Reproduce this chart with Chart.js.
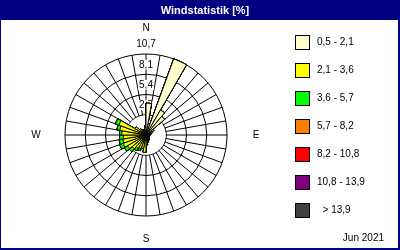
<!DOCTYPE html>
<html>
<head>
<meta charset="utf-8">
<script src="https://cdn.jsdelivr.net/npm/chart.js@4.4.0/dist/chart.umd.min.js"></script>
<style>
  html, body { margin: 0; padding: 0; background: #fff; }
  #wrap { width: 400px; height: 250px; }
</style>
</head>
<body>
<div id="wrap"><canvas id="windRose" width="400" height="250"></canvas></div>
<script>
// ---------- Data ---------- //
const chartTitle = "Windstatistik [%]";
const period = "Jun 2021";
const compassLabels = ["N", "E", "S", "W"];
const ringLabels = ["2,7", "5,4", "8,1", "10,7"];
const scaleMax = 10.7;

// 36 sectors of 10 degrees, clockwise from north
const directions = [
  "0", "10", "20", "30", "40", "50", "60", "70", "80",
  "90", "100", "110", "120", "130", "140", "150", "160", "170",
  "180", "190", "200", "210", "220", "230", "240", "250", "260",
  "270", "280", "290", "300", "310", "320", "330", "340", "350",
];

const speedClasses = [
  "0,5 - 2,1", "2,1 - 3,6", "3,6 - 5,7", "5,7 - 8,2",
  "8,2 - 10,8", "10,8 - 13,9", "  > 13,9",
];
const classColors = [
  "#ffffcc", "#ffff00", "#00ff00", "#ff8000",
  "#ff0000", "#800080", "#404040",
];

// share per sector [%] for each speed class
const speed05to21 = [
  4.2, 1.5, 10.7, 3.8, 3.2, 1.2, 0.8, 0.6, 0.5,
  0.5, 0.4, 0.4, 0.5, 0.5, 0.6, 0.6, 0.7, 0.8,
  0.7, 0.6, 0.5, 0.5, 0.5, 0.5, 0.5, 0.5, 0.5,
  0.5, 0.5, 0.5, 0.6, 0.6, 0.6, 0.6, 0.7, 1.0,
];
const speed21to36 = [
  0, 0, 0, 0, 0, 0, 0.1, 0.1, 0,
  0, 0, 0, 0, 0, 0.1, 0.2, 0.3, 0.5,
  1.6, 1.2, 1.4, 1.5, 1.9, 2.3, 2.7, 2.6, 2.5,
  2.7, 3.0, 3.3, 1.1, 0.5, 0.2, 0.1, 0.1, 0.2,
];
const speed36to57 = [
  0, 0, 0, 0, 0, 0, 0, 0, 0,
  0, 0, 0, 0, 0, 0, 0, 0, 0,
  0, 0, 0.3, 0.4, 0.5, 0.5, 0.5, 0.5, 0.5,
  0.3, 0.4, 0.5, 0, 0, 0, 0, 0, 0,
];
const speed57to82 = [
  0, 0, 0, 0, 0, 0, 0, 0, 0,
  0, 0, 0, 0, 0, 0, 0, 0, 0,
  0, 0, 0, 0, 0, 0, 0, 0, 0,
  0, 0, 0, 0, 0, 0, 0, 0, 0,
];
const speed82to108 = [
  0, 0, 0, 0, 0, 0, 0, 0, 0,
  0, 0, 0, 0, 0, 0, 0, 0, 0,
  0, 0, 0, 0, 0, 0, 0, 0, 0,
  0, 0, 0, 0, 0, 0, 0, 0, 0,
];
const speed108to139 = [
  0, 0, 0, 0, 0, 0, 0, 0, 0,
  0, 0, 0, 0, 0, 0, 0, 0, 0,
  0, 0, 0, 0, 0, 0, 0, 0, 0,
  0, 0, 0, 0, 0, 0, 0, 0, 0,
];
const speedOver139 = [
  0, 0, 0, 0, 0, 0, 0, 0, 0,
  0, 0, 0, 0, 0, 0, 0, 0, 0,
  0, 0, 0, 0, 0, 0, 0, 0, 0,
  0, 0, 0, 0, 0, 0, 0, 0, 0,
];

const classSeries = [
  speed05to21, speed21to36, speed36to57, speed57to82,
  speed82to108, speed108to139, speedOver139,
];

const FONT = '"Liberation Sans", Arial, sans-serif';
const NAVY = "#000080";

// stacked rose: each dataset holds the running total, smallest drawn on top
function cumulate(seriesList) {
  const running = new Array(directions.length).fill(0);
  return seriesList.map((series) =>
    series.map((value, i) => {
      running[i] = Math.round((running[i] + value) * 100) / 100;
      return running[i];
    })
  );
}

const stacked = cumulate(classSeries);
const datasets = speedClasses.map((label, i) => ({
  label,
  data: stacked[i],
  backgroundColor: classColors[i],
  borderColor: "#000",
  borderWidth: 1,
}));

// ---------- Decorations: title bar, labels, legend ---------- //
const roseDecor = {
  id: "roseDecor",
  beforeDraw(chart) {
    const { ctx, width } = chart;
    ctx.save();
    ctx.fillStyle = NAVY;
    ctx.fillRect(0, 0, width, 20);
    ctx.fillStyle = "#fff";
    ctx.font = "bold 11px " + FONT;
    ctx.textAlign = "center";
    ctx.textBaseline = "middle";
    ctx.fillText(chartTitle, width / 2 + 5, 10.5);
    ctx.restore();
  },
  beforeDatasetsDraw(chart) {
    const ctx = chart.ctx;
    const r = chart.scales.r;
    const inner = r.getDistanceFromCenterForValue(r.ticks[1].value);
    ctx.save();
    // calm circle stays empty
    ctx.beginPath();
    ctx.arc(r.xCenter, r.yCenter, inner - 0.5, 0, Math.PI * 2);
    ctx.fillStyle = "#fff";
    ctx.fill();

    ctx.font = "10px " + FONT;
    ctx.textAlign = "center";
    ctx.textBaseline = "middle";
    ringLabels.forEach((label, i) => {
      const dist = r.getDistanceFromCenterForValue(r.ticks[i + 1].value);
      const y = r.yCenter - dist - 9.5;
      const w = ctx.measureText(label).width + 2;
      ctx.fillStyle = "#fff";
      ctx.fillRect(r.xCenter - w / 2, y - 5, w, 10);
      ctx.fillStyle = "#000";
      ctx.fillText(label, r.xCenter, y);
    });
    ctx.restore();
  },
  afterDraw(chart) {
    const { ctx, width, height } = chart;
    const r = chart.scales.r;
    const R = r.drawingArea;
    ctx.save();
    ctx.font = "10px " + FONT;
    ctx.fillStyle = "#000";
    ctx.textAlign = "center";
    ctx.textBaseline = "middle";
    ctx.fillText(compassLabels[0], r.xCenter, r.yCenter - R - 26);
    ctx.fillText(compassLabels[1], r.xCenter + R + 29, r.yCenter);
    ctx.fillText(compassLabels[2], r.xCenter, r.yCenter + R + 23);
    ctx.fillText(compassLabels[3], r.xCenter - R - 29, r.yCenter);

    // legend
    ctx.textAlign = "left";
    chart.data.datasets.forEach((ds, i) => {
      const x = 295;
      const y = 35 + i * 28;
      ctx.fillStyle = ds.backgroundColor;
      ctx.fillRect(x, y, 14, 14);
      ctx.strokeStyle = "#000";
      ctx.lineWidth = 1;
      ctx.strokeRect(x + 0.5, y + 0.5, 14, 14);
      ctx.fillStyle = "#000";
      ctx.fillText(ds.label, x + 22, y + 7.5);
    });

    ctx.textAlign = "right";
    ctx.fillText(period, width - 16, height - 12);

    // frame
    ctx.fillStyle = NAVY;
    ctx.fillRect(0, 0, 1, height);
    ctx.fillRect(width - 2, 0, 2, height);
    ctx.fillRect(0, height - 2, width, 2);
    ctx.restore();
  },
};

// ---------- Chart ---------- //
const ctx = document.getElementById("windRose");

new Chart(ctx, {
  type: "polarArea",
  data: {
    labels: directions,
    datasets: datasets,
  },
  options: {
    responsive: false,
    devicePixelRatio: 1,
    animation: false,
    layout: {
      padding: { left: 65, right: 172, top: 21, bottom: 0 },
    },
    plugins: {
      legend: { display: false },
      title: { display: false },
      tooltip: { enabled: false },
    },
    scales: {
      r: {
        min: 0,
        max: scaleMax,
        startAngle: 0,
        ticks: { display: false, count: 5 },
        grid: { color: "#000", lineWidth: 1 },
        angleLines: { display: true, color: "#000", lineWidth: 1 },
        pointLabels: { display: false },
      },
    },
  },
  plugins: [roseDecor],
});
</script>
</body>
</html>
